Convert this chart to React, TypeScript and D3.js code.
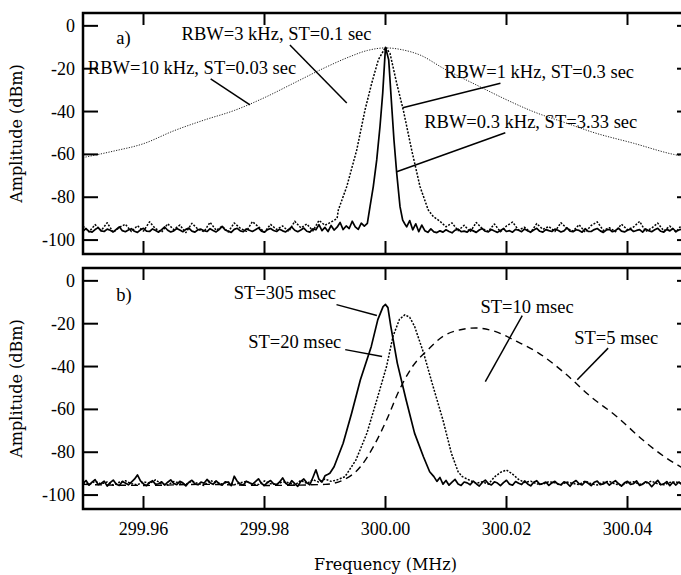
import React from 'react';
import * as d3 from 'd3';

const W = 681;
const H = 575;
const CENTER_MHZ = 300;

const FREQ_TICKS = [299.96, 299.98, 300.0, 300.02, 300.04];
const AMP_TICKS = [0, -20, -40, -60, -80, -100];

// ---- panel a) ----
// noise floor of the RBW=0.3 kHz trace, 0.5 kHz sweep steps
const TOP_SOLID_L = [
  -95.8, -94.6, -95.9, -96.3, -95.1, -94.2, -95.7, -96.0, -94.9, -95.4,
  -96.2, -95.0, -93.8, -95.6, -96.1, -95.3, -94.7, -95.9, -96.4, -95.2,
  -94.5, -95.8, -96.0, -94.8, -95.5, -96.3, -95.1, -93.9, -95.4, -96.2,
  -95.7, -94.6, -95.3, -96.1, -95.0, -94.4, -95.8, -96.3, -95.2, -94.9,
  -95.6, -96.0, -94.7, -95.5, -96.2, -95.1, -93.6, -95.3, -95.9, -96.4,
  -95.0, -94.5, -95.7, -96.1, -94.8, -95.4, -96.0, -95.2, -94.3, -95.8,
  -96.3, -95.1, -94.6, -95.5, -96.0, -94.9, -95.7, -96.2, -95.0, -93.9,
  -95.4, -96.1, -95.3, -94.4, -95.9, -96.3, -94.8, -95.2, -92.8, -95.6,
  -94.1, -96.0, -93.2, -95.3, -94.0, -91.8, -95.1, -93.4, -94.6, -91.2,
  -93.8, -95.0, -92.1, -93.5,
];
const TOP_SOLID_PEAK: [number, number][] = [
  [-3.0, -92.2], [-2.56, -84.4], [-2.02, -75], [-1.45, -62.6], [-0.91, -47],
  [-0.46, -31.4], [-0.13, -15.9], [0, -10], [0.53, -15.9], [0.96, -34.6],
  [1.4, -53.3], [1.85, -68.7], [2.4, -84.4], [2.84, -90.7], [3.2, -92.5],
];
const TOP_SOLID_R = [
  -93.8, -90.9, -95.2, -92.4, -96.1, -93.0, -95.6, -96.4, -94.8, -96.2,
  -96.5, -95.7, -96.3, -95.2, -96.0, -96.6, -95.4, -94.9, -96.1, -95.8,
  -96.3, -95.0, -95.7, -96.4, -95.3, -94.6, -95.9, -96.2, -95.1, -95.8,
  -96.4, -95.5, -94.7, -96.0, -95.6, -96.3, -95.0, -95.4, -96.1, -94.8,
  -95.7, -96.2, -95.3, -94.5, -95.9, -96.3, -95.1, -95.6, -96.0, -94.9,
  -95.4, -96.2, -95.7, -94.3, -95.8, -96.1, -95.2, -95.5, -96.3, -94.7,
  -95.9, -96.0, -95.1, -94.6, -95.7, -96.4, -95.3, -95.0, -96.1, -95.6,
  -94.4, -95.8, -96.2, -95.4, -94.9, -96.0, -95.5, -95.1, -96.3, -94.8,
  -95.6, -96.1, -95.2, -94.5, -95.9, -96.3, -95.0, -95.7, -94.6, -96.0,
  -95.3, -94.9, -95.8, -95.4,
];

// RBW=3 kHz trace, 1 kHz sweep steps on the floor
const TOP_DOTTED_L = [
  -93.5, -96.2, -92.8, -95.6, -91.9, -96.4, -94.1, -92.6, -96.0, -93.3,
  -95.8, -91.5, -94.7, -96.3, -92.4, -95.1, -93.0, -96.5, -92.2, -94.9,
  -96.1, -91.7, -95.4, -93.6, -96.2, -92.0, -94.5, -95.9, -91.4, -93.8,
  -96.3, -92.7, -95.0, -93.4, -96.0, -91.2, -94.3, -92.5, -95.7, -90.8,
  -93.1, -91.6, -89.9,
];
const TOP_DOTTED_PEAK: [number, number][] = [
  [-7.8, -86], [-6.4, -75], [-4.76, -58], [-3.39, -39.3], [-2.28, -26.8],
  [-1.19, -15.9], [-0.25, -11.2], [0, -10], [0.74, -12.8], [1.85, -26.8],
  [2.94, -39.3], [4.33, -58], [5.7, -75], [7.07, -86], [7.9, -89],
];
const TOP_DOTTED_R = [
  -91.2, -93.8, -92.0, -95.6, -93.1, -96.2, -91.8, -94.7, -95.9, -92.5,
  -96.1, -93.4, -91.6, -95.3, -94.0, -96.4, -92.3, -95.0, -93.7, -96.0,
  -91.9, -94.6, -95.8, -92.8, -96.3, -93.2, -91.5, -95.5, -94.2, -96.1,
  -92.6, -95.2, -93.9, -91.3, -96.0, -94.4, -92.1, -95.7, -93.5, -96.2,
  -92.9, -94.8,
];

// RBW=10 kHz trace (kHz offset, dBm)
const TOP_BROAD: [number, number][] = [
  [-50, -61.5], [-45, -58.5], [-40, -55], [-35, -49], [-30, -44], [-25, -39.5],
  [-20, -33.5], [-15, -26.5], [-10, -19.5], [-6, -14.5], [-3, -11.5], [0, -10.3],
  [3, -11.3], [5.7, -13.6], [9.55, -19.8], [15.6, -28.4], [20, -34.5], [24.4, -40],
  [30, -45.5], [34.3, -49.7], [41, -54.8], [47.6, -60], [50, -61.3],
];

// ---- panel b) ----
const BOT_SOLID_L = [
  -94.5, -93.2, -95.4, -94.0, -92.8, -95.1, -94.6, -93.5, -95.8, -94.2,
  -93.0, -94.9, -95.5, -93.7, -94.4, -95.2, -93.9, -92.6, -90.6, -93.4,
  -94.8, -95.6, -94.1, -93.3, -95.0, -94.7, -93.8, -95.3, -94.0, -92.9,
  -94.6, -95.1, -93.6, -94.3, -95.7, -94.0, -93.1, -94.8, -95.2, -93.9,
  -94.5, -92.7, -94.2, -95.0, -93.4, -94.7, -95.4, -93.8, -94.1, -95.6,
  -91.2, -93.6, -94.9, -95.3, -93.5, -94.2, -95.0, -93.7, -92.4, -94.6,
  -95.5, -94.1, -93.2, -94.8, -95.1, -93.9, -92.0, -94.5, -95.4, -93.3,
  -94.7, -95.9, -93.6, -92.5, -94.3, -95.2, -91.8, -88.2, -92.6, -93.9,
  -91.0, -90.3,
];
const BOT_SOLID_PEAK: [number, number][] = [
  [-9.2, -89.8], [-8.5, -86.8], [-7.0, -75.8], [-5.6, -61.8], [-4.15, -46.2],
  [-2.35, -30.6], [-1.27, -18.1], [-0.4, -12], [0, -11], [0.4, -12.5],
  [0.88, -21.2], [1.95, -38.4], [3.4, -55.5], [4.8, -71.1], [6.27, -82.1],
  [7.3, -89.1], [8.0, -91.4],
];
const BOT_SOLID_R = [
  -93.6, -91.8, -94.9, -93.2, -95.4, -94.0, -92.7, -94.8, -95.5, -93.9,
  -94.3, -95.2, -93.5, -94.7, -95.8, -94.1, -93.0, -94.6, -95.3, -93.8,
  -94.4, -95.6, -94.2, -93.1, -94.9, -95.4, -93.7, -94.5, -95.1, -93.4,
  -94.8, -95.7, -94.0, -93.3, -95.0, -94.6, -93.9, -95.5, -94.3, -93.6,
  -94.9, -95.2, -93.8, -94.4, -95.9, -94.1, -93.2, -94.7, -95.3, -93.7,
  -94.5, -95.6, -94.0, -93.5, -95.1, -94.8, -93.9, -95.4, -94.2, -93.3,
  -94.6, -95.8, -94.3, -93.6, -95.0, -94.7, -93.4, -95.5, -94.9, -93.8,
  -94.4, -96.1, -94.5, -93.1, -95.2, -94.8, -93.7, -95.6, -94.0, -95.3,
  -93.9, -95.1, -94.6, -95.7,
];

const BOT_DOTTED_L = [
  -94.2, -95.1, -93.6, -94.8, -93.9, -95.4, -94.0, -93.3, -94.7, -95.2,
  -93.8, -94.5, -92.9, -94.9, -95.3, -93.7, -94.4, -95.0, -93.5, -94.6,
  -95.5, -93.2, -94.1, -94.8, -93.9, -95.2, -94.3, -93.6, -94.9, -95.1,
  -93.4, -94.7, -95.0, -93.8, -94.2, -95.4, -93.1, -94.6, -92.8, -94.0,
  -92.5, -93.6,
];
const BOT_DOTTED_PEAK: [number, number][] = [
  [-8.1, -93], [-6.7, -91.4], [-4.9, -83.7], [-3.07, -71.1], [-1.27, -54],
  [0.17, -40], [1.24, -25.9], [2.3, -18], [3.2, -15.8], [4.0, -17],
  [4.8, -21.2], [6.3, -33.7], [7.7, -47.7], [9.5, -65], [10.9, -80.6],
  [12.0, -89.1], [12.7, -91.4],
];
const BOT_DOTTED_R = [
  -93.2, -94.5, -93.8, -94.9, -91.6, -89.4, -88.3, -90.2, -92.7, -94.1,
  -93.5, -94.8, -95.0, -93.7, -94.3, -95.2, -93.9, -94.6, -95.1, -93.4,
  -94.7, -95.3, -94.0, -93.6, -94.9, -95.4, -94.2, -93.8, -95.0, -94.4,
  -93.5, -94.8, -95.2, -94.1, -93.9, -94.6, -94.3,
];

const BOT_DASHED: [number, number][] = [
  [-50, -95], [-40, -95.5], [-30, -95], [-20, -95.5], [-10, -95], [-7, -93],
  [-4.15, -86.8], [-2, -77.4], [0.17, -65], [2.3, -50.9], [4.46, -40], [7.0, -32.2],
  [9.5, -25.9], [12.4, -22.8], [14.9, -22], [18.1, -23.6], [21.7, -28.3], [25.3, -33.7],
  [29.6, -43], [33.9, -54], [38.2, -63.3], [42.5, -74.2], [46.1, -82.1], [48.8, -86.8],
  [50, -88.5],
];

// labels: [text, kHz, dBm] and leader lines [kHz1, dB1, kHz2, dB2]
const TOP_LABELS: [string, number, number][] = [
  ['a)', -44.5, -8.4],
  ['RBW=3 kHz, ST=0.1 sec', -33.7, -6.5],
  ['RBW=10 kHz, ST=0.03 sec', -49.2, -22.4],
  ['RBW=1 kHz, ST=0.3 sec', 9.7, -24.3],
  ['RBW=0.3 kHz, ST=3.33 sec', 6.4, -47.7],
];
const TOP_LEADERS: [number, number, number, number][] = [
  [-15.8, -8.9, -6.4, -36.0],
  [-28.9, -24.8, -22.4, -36.9],
  [19.0, -26.8, 2.84, -38.2],
  [19.8, -49.9, 1.85, -68.1],
];
const BOT_LABELS: [string, number, number][] = [
  ['b)', -44.5, -9.2],
  ['ST=305 msec', -25.1, -8.3],
  ['ST=20 msec', -22.7, -31.2],
  ['ST=10 msec', 15.7, -14.8],
  ['ST=5 msec', 31.2, -29.3],
];
const BOT_LEADERS: [number, number, number, number][] = [
  [-8.1, -11.1, -1.42, -16.2],
  [-6.66, -32.1, -0.56, -35.3],
  [22.6, -16.2, 16.5, -47.0],
  [36.8, -31.4, 31.7, -46.2],
];

const sweep = (start: number, step: number, vals: number[]): [number, number][] =>
  vals.map((v, i) => [start + i * step, v]);

const SERIF = "'Liberation Serif', 'Times New Roman', serif";
const TITLE = "'DejaVu Serif', serif";

const LEFT = 83;
const RIGHT = 691;

const x = d3.scaleLinear().domain([299.95, 300.05]).range([83, 688]);
const toMHz = (k: number) => CENTER_MHZ + k / 1000;

type Trace = { pts: [number, number][]; w: number; dash?: string; color?: string; smooth?: boolean };

const Panel = ({ id, top, bottom, traces, labels, leaders, xLabels }: {
  id: string; top: number; bottom: number; traces: Trace[];
  labels: [string, number, number][]; leaders: [number, number, number, number][]; xLabels: boolean;
}) => {
  const y = d3.scaleLinear().domain([-106.5, 6]).range([bottom, top]);
  const line = (t: Trace) => d3.line<[number, number]>()
    .x(d => x(toMHz(d[0])))
    .y(d => y(d[1]))
    .curve(t.smooth ? d3.curveMonotoneX : d3.curveLinear)(t.pts) || '';
  return (
    <g>
      <defs>
        <clipPath id={id}>
          <rect x={LEFT} y={top} width={RIGHT - LEFT} height={bottom - top} />
        </clipPath>
      </defs>
      <g clipPath={`url(#${id})`}>
        {traces.map((t, i) => (
          <path key={i} d={line(t)} fill="none" stroke={t.color || '#000'}
            strokeWidth={t.w} strokeDasharray={t.dash} strokeLinejoin="round" />
        ))}
      </g>
      {leaders.map((l, i) => (
        <line key={i} x1={x(toMHz(l[0]))} y1={y(l[1])} x2={x(toMHz(l[2]))} y2={y(l[3])}
          stroke="#000" strokeWidth={1.5} />
      ))}
      {labels.map((l, i) => (
        <text key={i} x={x(toMHz(l[1]))} y={y(l[2])} fontFamily={SERIF} fontSize={18.5} fill="#000">{l[0]}</text>
      ))}
      <rect x={LEFT} y={top} width={RIGHT - LEFT} height={bottom - top} fill="none" stroke="#000" strokeWidth={2.5} />
      {FREQ_TICKS.map(f => (
        <g key={f}>
          <line x1={x(f)} x2={x(f)} y1={top} y2={top + 12} stroke="#000" strokeWidth={2} />
          <line x1={x(f)} x2={x(f)} y1={bottom} y2={bottom - 13} stroke="#000" strokeWidth={2} />
          {xLabels && (
            <text x={x(f)} y={bottom + 26} textAnchor="middle" fontFamily={SERIF} fontSize={18}>{f.toFixed(2)}</text>
          )}
        </g>
      ))}
      {AMP_TICKS.map(a => (
        <g key={a}>
          <line x1={LEFT} x2={LEFT + 15} y1={y(a)} y2={y(a)} stroke="#000" strokeWidth={2} />
          <line x1={RIGHT} x2={RIGHT - 14} y1={y(a)} y2={y(a)} stroke="#000" strokeWidth={2} />
          <text x={75} y={y(a) + 6} textAnchor="end" fontFamily={SERIF} fontSize={18}>{a}</text>
        </g>
      ))}
      <text transform={`translate(22,${(top + bottom) / 2}) rotate(-90)`} textAnchor="middle"
        fontFamily={TITLE} fontSize={16}>Amplitude (dBm)</text>
    </g>
  );
};

export default function App() {
  const topTraces: Trace[] = [
    { pts: TOP_BROAD, w: 1, dash: '1.2,1.4', color: '#222', smooth: true },
    { pts: [...sweep(-50, 1, TOP_DOTTED_L), ...TOP_DOTTED_PEAK, ...sweep(9, 1, TOP_DOTTED_R)], w: 1.5, dash: '2,1.5' },
    { pts: [...sweep(-50, 0.5, TOP_SOLID_L), ...TOP_SOLID_PEAK, ...sweep(3.5, 0.5, TOP_SOLID_R)], w: 1.7 },
  ];
  const botTraces: Trace[] = [
    { pts: BOT_DASHED, w: 1.4, dash: '7,5', smooth: true },
    { pts: [...sweep(-50, 1, BOT_DOTTED_L), ...BOT_DOTTED_PEAK, ...sweep(14, 1, BOT_DOTTED_R)], w: 1.5, dash: '2,1.5' },
    { pts: [...sweep(-50, 0.5, BOT_SOLID_L), ...BOT_SOLID_PEAK, ...sweep(8.5, 0.5, BOT_SOLID_R)], w: 1.7 },
  ];
  return (
    <svg width={W} height={H} style={{ position: 'absolute', left: 0, top: 0, background: '#fff' }}>
      <rect width={W} height={H} fill="#fff" />
      <Panel id="clipA" top={13} bottom={254} traces={topTraces} labels={TOP_LABELS} leaders={TOP_LEADERS} xLabels={false} />
      <Panel id="clipB" top={268} bottom={509} traces={botTraces} labels={BOT_LABELS} leaders={BOT_LEADERS} xLabels={true} />
      <text x={x(300)} y={570} textAnchor="middle" fontFamily={TITLE} fontSize={16}>Frequency (MHz)</text>
    </svg>
  );
}
